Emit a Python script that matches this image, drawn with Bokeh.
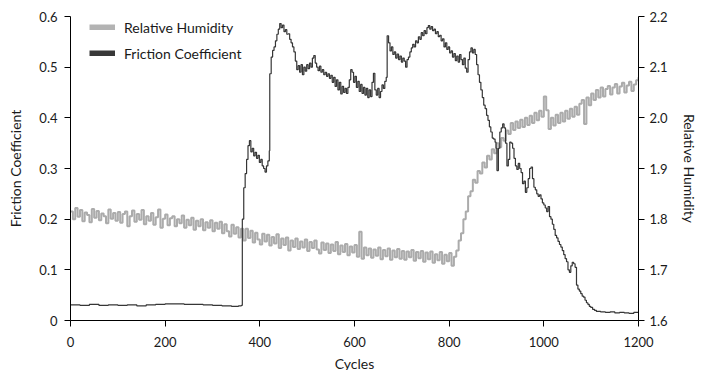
from bokeh.plotting import figure
from bokeh.models import Range1d, LinearAxis, FixedTicker, Legend, LegendItem
from bokeh.embed import file_html
from bokeh.resources import INLINE

# ---------------- data ----------------
rh_cycles = list(range(0, 1201, 5))
rh_values = [
    1.815, 1.800, 1.822, 1.805, 1.818, 1.796, 1.813, 1.808, 1.794, 1.820, 1.803, 1.816, 1.798, 1.811, 1.806, 1.792, 1.819, 1.801, 1.812, 1.797, 1.814,
    1.793, 1.810, 1.815, 1.786, 1.806, 1.817, 1.795, 1.810, 1.799, 1.818, 1.790, 1.806, 1.797, 1.812, 1.789, 1.804, 1.819, 1.783, 1.801, 1.809,
    1.788, 1.802, 1.806, 1.786, 1.800, 1.792, 1.807, 1.783, 1.799, 1.788, 1.803, 1.779, 1.797, 1.786, 1.800, 1.778, 1.794, 1.783, 1.798, 1.776,
    1.793, 1.781, 1.795, 1.772, 1.790, 1.776, 1.766, 1.789, 1.771, 1.784, 1.764, 1.781, 1.758, 1.781, 1.763, 1.777, 1.754, 1.773, 1.760, 1.750,
    1.771, 1.756, 1.769, 1.748, 1.765, 1.752, 1.770, 1.743, 1.762, 1.749, 1.764, 1.738, 1.758, 1.745, 1.762, 1.741, 1.756, 1.744, 1.760, 1.737,
    1.755, 1.743, 1.758, 1.740, 1.732, 1.754, 1.739, 1.752, 1.733, 1.750, 1.737, 1.755, 1.731, 1.748, 1.735, 1.751, 1.729, 1.746, 1.734, 1.749,
    1.726, 1.775, 1.722, 1.744, 1.729, 1.742, 1.724, 1.740, 1.728, 1.744, 1.721, 1.739, 1.727, 1.742, 1.720, 1.738, 1.725, 1.741, 1.722, 1.737,
    1.720, 1.736, 1.725, 1.739, 1.718, 1.735, 1.723, 1.737, 1.716, 1.734, 1.721, 1.736, 1.714, 1.731, 1.719, 1.735, 1.712, 1.730, 1.717, 1.733,
    1.708, 1.726, 1.738, 1.758, 1.772, 1.800, 1.815, 1.845, 1.855, 1.878, 1.872, 1.895, 1.890, 1.912, 1.902, 1.925, 1.918, 1.938, 1.930, 1.950,
    1.942, 1.960, 1.955, 1.975, 1.968, 1.990, 1.976, 1.993, 1.980, 1.996, 1.982, 2.000, 1.986, 2.004, 1.990, 2.010, 1.995, 2.014, 2.002, 2.042,
    2.015, 1.978, 2.000, 1.985, 2.006, 1.990, 2.010, 1.993, 2.014, 1.998, 2.018, 2.002, 2.022, 2.006, 2.028, 2.035, 1.988, 2.040, 2.025, 2.048,
    2.035, 2.055, 2.040, 2.060, 2.042, 2.057, 2.063, 2.046, 2.060, 2.067, 2.048, 2.062, 2.069, 2.050, 2.064, 2.071, 2.053, 2.066, 2.074, 2.080,
]

fc_cycles = [
    0, 20, 40, 60, 80, 100, 120, 140, 160, 180, 200, 220, 240, 260, 280, 300, 320, 340, 355,
    361, 363, 366, 369, 372, 375, 378, 381, 384, 387, 390, 393, 396, 399, 402, 405, 408, 411,
    414, 417, 420, 421, 424, 427, 430, 433, 436, 439, 442, 445, 448, 451, 454, 457, 460, 463,
    466, 469, 472, 475, 478, 481, 484, 487, 490, 493, 496, 499, 502, 505, 508, 511, 514, 517,
    520, 523, 526, 529, 532, 535, 538, 541, 544, 547, 550, 553, 556, 559, 562, 565, 568, 571,
    574, 577, 580, 583, 586, 589, 592, 595, 598, 601, 604, 607, 610, 613, 616, 619, 622, 625,
    628, 631, 634, 637, 640, 643, 646, 649, 652, 655, 658, 661, 664, 667, 669, 672, 675, 678,
    681, 684, 687, 690, 693, 696, 699, 702, 705, 708, 711, 714, 717, 720, 723, 726, 729, 732,
    735, 738, 741, 744, 747, 750, 753, 756, 759, 762, 765, 768, 771, 774, 777, 780, 783, 786,
    789, 792, 795, 798, 801, 804, 807, 810, 813, 816, 819, 822, 825, 828, 831, 834, 837, 840,
    843, 846, 849, 852, 855, 858, 861, 864, 867, 870, 873, 876, 879, 882, 885, 888, 891, 894,
    897, 899, 901, 904, 907, 910, 913, 916, 919, 922, 925, 928, 931, 934, 937, 940, 943, 946,
    949, 952, 955, 958, 961, 964, 967, 970, 973, 976, 979, 982, 985, 988, 991, 994, 997, 1000,
    1003, 1006, 1009, 1012, 1015, 1018, 1021, 1024, 1027, 1030, 1033, 1036, 1039, 1042, 1045,
    1048, 1051, 1054, 1057, 1060, 1063, 1066, 1069, 1072, 1075, 1078, 1081, 1084, 1087, 1090,
    1093, 1096, 1099, 1103, 1107, 1111, 1120, 1130, 1140, 1150, 1160, 1170, 1180, 1190, 1200,
]
fc_values = [
    0.031, 0.030, 0.032, 0.030, 0.031, 0.030, 0.031, 0.029, 0.031, 0.032, 0.033, 0.033, 0.032,
    0.032, 0.031, 0.030, 0.029, 0.028, 0.029,
    0.030, 0.200, 0.262, 0.290, 0.318, 0.345, 0.355, 0.333, 0.340, 0.325, 0.332, 0.320, 0.326,
    0.312, 0.318, 0.305, 0.300, 0.293, 0.305, 0.315, 0.335, 0.487, 0.520, 0.533, 0.540, 0.552,
    0.565, 0.575, 0.586, 0.578, 0.583, 0.570, 0.574, 0.565, 0.566, 0.555, 0.548, 0.540, 0.530,
    0.512, 0.495, 0.503, 0.490, 0.505, 0.485, 0.500, 0.492, 0.505, 0.497, 0.508, 0.500, 0.518,
    0.523, 0.508, 0.500, 0.493, 0.502, 0.490, 0.495, 0.485, 0.490, 0.482, 0.487, 0.478, 0.484,
    0.470, 0.480, 0.462, 0.475, 0.455, 0.470, 0.447, 0.462, 0.450, 0.458, 0.448, 0.460, 0.475,
    0.495, 0.490, 0.470, 0.482, 0.460, 0.472, 0.452, 0.466, 0.448, 0.460, 0.445, 0.458, 0.440,
    0.455, 0.442, 0.470, 0.488, 0.455, 0.445, 0.458, 0.440, 0.452, 0.465, 0.458, 0.472, 0.480,
    0.562, 0.548, 0.532, 0.540, 0.525, 0.530, 0.518, 0.526, 0.515, 0.522, 0.510, 0.518, 0.512,
    0.500, 0.515, 0.520, 0.530, 0.538, 0.545, 0.540, 0.552, 0.548, 0.560, 0.555, 0.568, 0.562,
    0.572, 0.566, 0.578, 0.582, 0.575, 0.580, 0.572, 0.575, 0.566, 0.570, 0.560, 0.563, 0.552,
    0.556, 0.540, 0.548, 0.535, 0.540, 0.528, 0.532, 0.520, 0.527, 0.513, 0.522, 0.510, 0.525,
    0.515, 0.505, 0.518, 0.498, 0.490, 0.515, 0.530, 0.538, 0.528, 0.535, 0.525, 0.505, 0.485,
    0.470, 0.455, 0.440, 0.425, 0.418, 0.405, 0.395, 0.382, 0.372, 0.360, 0.358, 0.352, 0.340,
    0.296, 0.340, 0.372, 0.380, 0.388, 0.380, 0.350, 0.305, 0.318, 0.352, 0.350, 0.340, 0.320,
    0.305, 0.298, 0.310, 0.300, 0.292, 0.270, 0.275, 0.253, 0.262, 0.280, 0.300, 0.303, 0.280,
    0.263, 0.258, 0.250, 0.245, 0.248, 0.240, 0.232, 0.228, 0.222, 0.215, 0.225, 0.205, 0.200,
    0.190, 0.180, 0.168, 0.163, 0.156, 0.150, 0.145, 0.138, 0.130, 0.122, 0.116, 0.100, 0.095,
    0.108, 0.115, 0.112, 0.105, 0.070, 0.062, 0.058, 0.053, 0.048, 0.046, 0.040, 0.035, 0.032,
    0.028, 0.026, 0.022, 0.020, 0.018, 0.017, 0.016, 0.017, 0.015, 0.016, 0.015, 0.014, 0.016,
    0.015,
]

x_ticks = [0, 200, 400, 600, 800, 1000, 1200]
fc_ticks = [0, 0.1, 0.2, 0.3, 0.4, 0.5, 0.6]
fc_tick_labels = ["0", "0.1", "0.2", "0.3", "0.4", "0.5", "0.6"]
rh_ticks = [1.6, 1.7, 1.8, 1.9, 2.0, 2.1, 2.2]
rh_tick_labels = ["1.6", "1.7", "1.8", "1.9", "2.0", "2.1", "2.2"]
series_names = ["Relative Humidity", "Friction Coefficient"]

# ---------------- styling ----------------
FONT = "Lato"
TXT = "#1a1a1a"
RH_COLOR = "#ababab"
FC_COLOR = "#363636"

p = figure(frame_width=568, frame_height=304, output_backend="svg", toolbar_location=None,
           x_range=Range1d(0, 1200), y_range=Range1d(0, 0.6),
           min_border_left=70, min_border_right=10, min_border_top=16, min_border_bottom=50)
p.extra_y_ranges = {"rh": Range1d(1.6, 2.2)}
p.outline_line_color = None
p.xgrid.visible = False
p.ygrid.visible = False

rh_line = p.step(rh_cycles, rh_values, mode="after", line_color=RH_COLOR, line_width=2,
                 y_range_name="rh")
fc_line = p.step(fc_cycles, fc_values, mode="after", line_color=FC_COLOR, line_width=1.2)

# thick hidden copies used only as legend swatches
sw_rh = p.line(rh_cycles, rh_values, line_color="#b3b3b3", line_width=6, line_cap="butt",
               y_range_name="rh", visible=False)
sw_fc = p.line(fc_cycles, fc_values, line_color="#383838", line_width=6, line_cap="butt",
               visible=False)
legend = Legend(items=[LegendItem(label=series_names[0], renderers=[sw_rh]),
                       LegendItem(label=series_names[1], renderers=[sw_fc])],
                location=(19, 257), margin=0, padding=0,
                glyph_width=26, glyph_height=6, label_standoff=9, spacing=6,
                label_height=20, click_policy="none",
                label_text_font=FONT, label_text_font_size="14px",
                label_text_color=TXT, border_line_color=None,
                background_fill_alpha=0)
p.add_layout(legend)

def style_axis(ax, ticks, labels):
    ax.ticker = FixedTicker(ticks=ticks)
    ax.major_label_overrides = {t: l for t, l in zip(ticks, labels)}
    ax.major_tick_out = 6
    ax.major_tick_in = 0
    ax.minor_tick_out = 0
    ax.minor_tick_in = 0
    ax.axis_line_color = "black"
    ax.major_tick_line_color = "black"
    ax.major_label_text_font = FONT
    ax.major_label_text_font_size = "13px"
    ax.major_label_text_color = TXT
    ax.axis_label_text_font = FONT
    ax.axis_label_text_font_size = "14px"
    ax.axis_label_text_font_style = "normal"
    ax.axis_label_text_color = TXT

xa = p.xaxis[0]
style_axis(xa, x_ticks, [str(t) for t in x_ticks])
xa.axis_label = "Cycles"
xa.major_label_standoff = 10
xa.axis_label_standoff = 5

ya = p.yaxis[0]
style_axis(ya, fc_ticks, fc_tick_labels)
ya.axis_label = "Friction Coefficient"
ya.major_label_standoff = 7
ya.axis_label_standoff = 12

ra = LinearAxis(y_range_name="rh", axis_label="Relative Humidity")
style_axis(ra, rh_ticks, rh_tick_labels)
ra.major_label_standoff = 5
ra.axis_label_standoff = 10
p.add_layout(ra, "right")

open("out.html", "w").write(file_html(p, INLINE))
